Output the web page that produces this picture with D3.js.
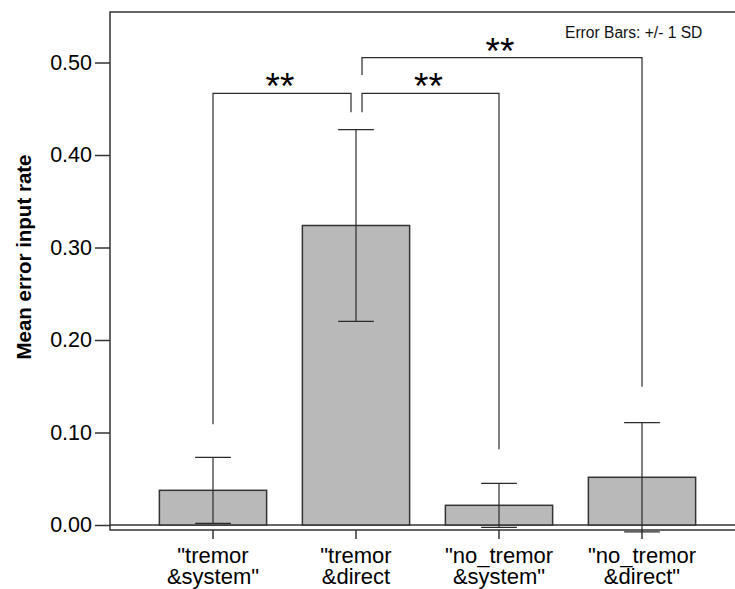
<!DOCTYPE html>
<html>
<head>
<meta charset="utf-8">
<script src="https://cdn.jsdelivr.net/npm/d3@7"></script>
<style>
  body { margin: 0; background: white; }
  svg { display: block; }
</style>
</head>
<body>
<svg></svg>
<script>
const width = 735;
const height = 589;

// data
const categories = ["tremor_system", "tremor_direct", "no_tremor_system", "no_tremor_direct"];
const labelLines = [
  ['"tremor', '&system"'],
  ['"tremor', '&direct'],
  ['"no_tremor', '&system"'],
  ['"no_tremor', '&direct"']
];
const means = [0.0375, 0.3238, 0.0213, 0.0516];
const sds = [0.0357, 0.1037, 0.0238, 0.0590];
const yTicks = [0.0, 0.1, 0.2, 0.3, 0.4, 0.5];

// significance brackets: [from, to, bracket level, left leg end, right leg end]
const compFrom = [0, 1, 1];
const compTo = [1, 2, 3];
const compLevel = [0.4667, 0.4667, 0.5052];
const compLegFrom = [0.1089, 0.4462, 0.4865];
const compLegTo = [0.4462, 0.0818, 0.1495];
const compText = ["**", "**", "**"];

const font = '"Liberation Sans", Arial, Helvetica, sans-serif';
const ink = "#2b2b2b";

const plot = { left: 110, top: 12, right: 745, bottom: 530 };

const svg = d3.select("svg")
  .attr("width", width)
  .attr("height", height)
  .style("font-family", font);

const x = d3.scaleBand()
  .domain(categories)
  .range([141.5, 713.5])
  .paddingInner(0.25)
  .paddingOuter(0.125);

const y = d3.scaleLinear()
  .domain([-0.0054, 0.5546])
  .range([plot.bottom, plot.top]);

const cx = c => x(c) + x.bandwidth() / 2;

// frame
svg.append("rect")
  .attr("x", plot.left)
  .attr("y", plot.top)
  .attr("width", plot.right - plot.left)
  .attr("height", plot.bottom - plot.top)
  .attr("fill", "none")
  .attr("stroke", "#333")
  .attr("stroke-width", 1.5);

// zero reference line
svg.append("line")
  .attr("x1", plot.left)
  .attr("x2", plot.right)
  .attr("y1", y(0))
  .attr("y2", y(0))
  .attr("stroke", "#333")
  .attr("stroke-width", 1.5);

// y axis
const yAxis = svg.append("g")
  .attr("transform", `translate(${plot.left},0)`)
  .call(d3.axisLeft(y)
    .tickValues(yTicks)
    .tickFormat(d3.format(".2f"))
    .tickSize(15)
    .tickPadding(3));
yAxis.select(".domain").remove();
yAxis.selectAll("line").attr("stroke", "#333").attr("stroke-width", 1.5);
yAxis.selectAll("text")
  .attr("fill", "#000")
  .style("font-family", font)
  .style("font-size", "21.5px");

// x axis ticks and labels
const xAxis = svg.append("g")
  .attr("transform", `translate(0,${plot.bottom})`)
  .call(d3.axisBottom(x).tickSize(9).tickFormat(""));
xAxis.select(".domain").remove();
xAxis.selectAll("line").attr("stroke", "#333").attr("stroke-width", 1.5);

const xLabels = svg.append("g");
categories.forEach((c, i) => {
  const t = xLabels.append("text")
    .attr("text-anchor", "middle")
    .attr("fill", "#000")
    .style("font-size", "22px");
  labelLines[i].forEach((line, j) => {
    t.append("tspan")
      .attr("x", cx(c))
      .attr("y", 563 + j * 21)
      .text(line);
  });
});

// y axis title
svg.append("text")
  .attr("transform", `translate(31,257) rotate(-90)`)
  .attr("text-anchor", "middle")
  .attr("fill", "#000")
  .style("font-size", "20.5px")
  .style("font-weight", "bold")
  .text("Mean error input rate");

// bars
svg.append("g")
  .selectAll("rect")
  .data(means)
  .join("rect")
  .attr("x", (d, i) => x(categories[i]))
  .attr("y", d => y(d))
  .attr("width", x.bandwidth())
  .attr("height", d => y(0) - y(d))
  .attr("fill", "#b9b9b9")
  .attr("stroke", "#333")
  .attr("stroke-width", 1.5);

// error bars
const capHalf = x.bandwidth() / 6;
const err = svg.append("g")
  .attr("stroke", ink)
  .attr("stroke-width", 1.2);
means.forEach((m, i) => {
  const c = cx(categories[i]);
  const hi = y(m + sds[i]);
  const lo = y(m - sds[i]);
  err.append("line").attr("x1", c).attr("x2", c).attr("y1", hi).attr("y2", lo);
  err.append("line").attr("x1", c - capHalf).attr("x2", c + capHalf).attr("y1", hi).attr("y2", hi);
  err.append("line").attr("x1", c - capHalf).attr("x2", c + capHalf).attr("y1", lo).attr("y2", lo);
});

// significance brackets
const br = svg.append("g");
compFrom.forEach((f, i) => {
  const x1 = cx(categories[f]) + (f === 1 ? 6 : 0);
  const x2 = cx(categories[compTo[i]]) - (compTo[i] === 1 ? 5 : 0);
  const yl = y(compLevel[i]);
  br.append("path")
    .attr("d", `M${x1},${y(compLegFrom[i])}V${yl}H${x2}V${y(compLegTo[i])}`)
    .attr("fill", "none")
    .attr("stroke", ink)
    .attr("stroke-width", 1.2);
  br.append("text")
    .attr("x", (x1 + x2) / 2 - 2)
    .attr("y", yl + 6)
    .attr("text-anchor", "middle")
    .attr("fill", "#000")
    .style("font-size", "37px")
    .text(compText[i]);
});

// note
svg.append("text")
  .attr("x", 565)
  .attr("y", 38)
  .attr("fill", "#111")
  .style("font-size", "15.6px")
  .text("Error Bars: +/- 1 SD");
</script>
</body>
</html>
